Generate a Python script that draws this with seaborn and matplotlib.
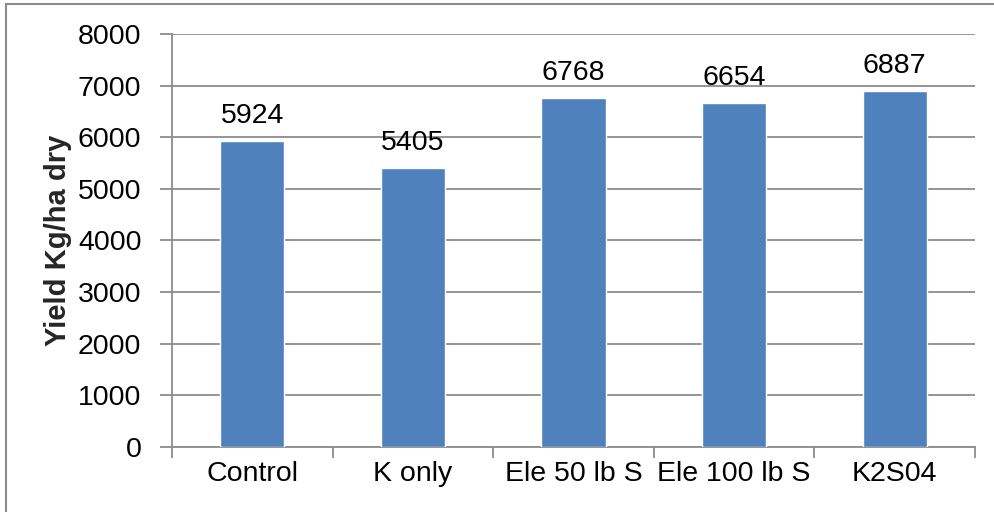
import matplotlib
matplotlib.use("Agg")
import matplotlib.pyplot as plt
from matplotlib.patches import Rectangle
import seaborn as sns
import pandas as pd

treatments = ["Control", "K only", "Ele 50 lb S", "Ele 100 lb S", "K2S04"]
yields = [5924, 5405, 6768, 6654, 6887]
y_ticks = [0, 1000, 2000, 3000, 4000, 5000, 6000, 7000, 8000]

df = pd.DataFrame({"Treatment": treatments, "Yield": yields})

sns.set_theme(style="white")
plt.rcParams["font.family"] = ["Liberation Sans", "DejaVu Sans"]

W, H = 994, 512
fig = plt.figure(figsize=(W / 100, H / 100), dpi=100)

# outer chart frame
fig.patches.append(Rectangle((6 / W, -0.1), 1.2, (H - 4) / H + 0.1,
                             transform=fig.transFigure, fill=False,
                             edgecolor="#8c8c8c", linewidth=1.5))

left, right, top, bottom = 172, 975, 34, 447
ax = fig.add_axes([left / W, (H - bottom) / H, (right - left) / W, (bottom - top) / H])

bar_color = "#4F81BD"
grid_color = "#8c8c8c"

sns.barplot(data=df, x="Treatment", y="Yield", color=bar_color, width=0.4,
            saturation=1, ax=ax, zorder=3)

ax.set_ylim(0, 8000)
ax.set_xlim(-0.5, len(treatments) - 0.5)
ax.set_yticks(y_ticks)
ax.yaxis.grid(True, color=grid_color, linewidth=1.3, zorder=0)
ax.xaxis.grid(False)

for s in ["top", "right"]:
    ax.spines[s].set_visible(False)
for s in ["left", "bottom"]:
    ax.spines[s].set_color(grid_color)
    ax.spines[s].set_linewidth(1.3)

ax.tick_params(axis="y", which="major", length=9, width=1.3, color=grid_color,
               labelsize=20.5, pad=13, left=True, labelcolor="black")
ax.set_xticks(range(len(treatments)))
ax.set_xticklabels(treatments)
ax.set_xticks([i - 0.5 for i in range(len(treatments) + 1)], minor=True)
ax.tick_params(axis="x", which="major", length=0, labelsize=20.5, pad=10,
               labelcolor="black")
ax.tick_params(axis="x", which="minor", length=8, width=1.3, color=grid_color,
               bottom=True)

ax.set_xlabel("")
ax.set_ylabel("Yield Kg/ha dry", fontsize=21, fontweight="bold", labelpad=4)

for i, v in enumerate(yields):
    ax.annotate(f"{v}", xy=(i, v), xytext=(0, 13), textcoords="offset points",
                ha="center", va="baseline", fontsize=20.5, color="black")

fig.savefig("out.png", dpi=100)
